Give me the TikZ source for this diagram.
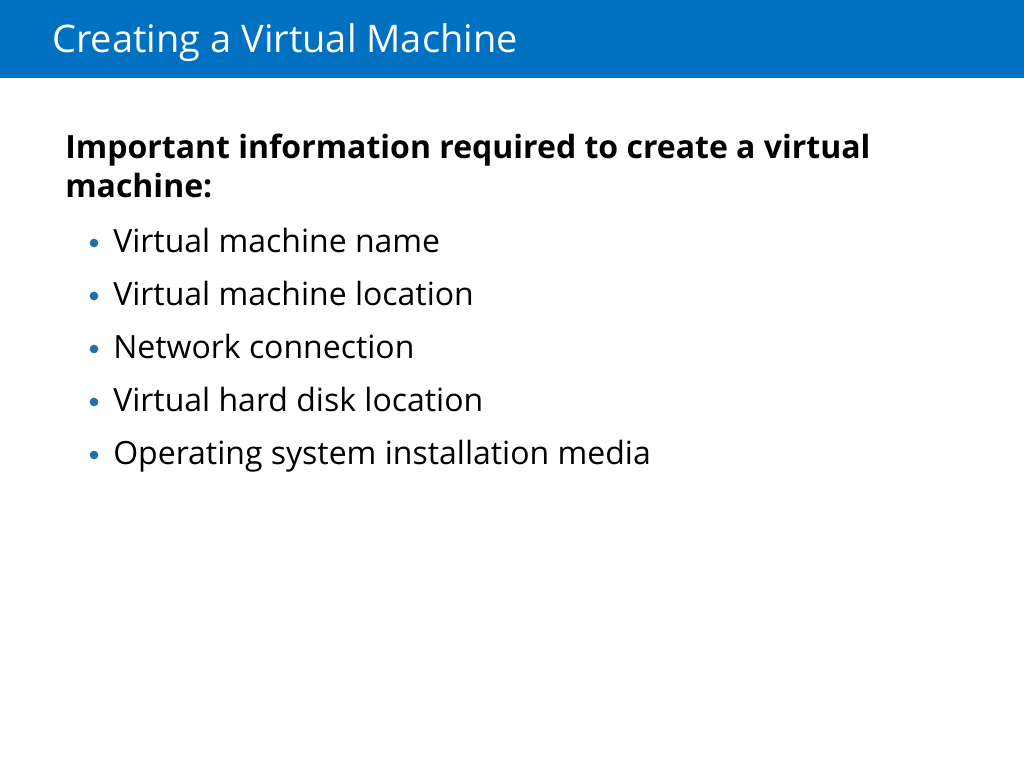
\documentclass[tikz,border=0pt]{standalone}
\usepackage{fontspec}
\setmainfont{Open Sans}
\definecolor{barblue}{HTML}{0070C0}
\definecolor{bulletblue}{HTML}{1F6FAE}
\begin{document}
\begin{tikzpicture}[x=0.75pt,y=-0.75pt,
  title/.style={anchor=base west,inner sep=0pt,text=white,font=\fontsize{28.5}{34}\selectfont},
  head/.style={anchor=base west,inner sep=0pt,font=\bfseries\fontsize{24}{29}\selectfont},
  item/.style={anchor=base west,inner sep=0pt,font=\fontsize{24}{29}\selectfont},
  dot/.style={circle,fill=bulletblue,inner sep=0pt,minimum size=6.5pt}]
\useasboundingbox (0,0) rectangle (1024,768);
\fill[white] (0,0) rectangle (1024,768);
\fill[barblue] (0,0) rectangle (1024,78);
\node[title] (t) at (52,52) {Creating a Virtual Machine};
\node[head] (h1) at (65,158) {Important information required to create a virtual};
\node[head] (h2) at (65,197) {machine:};
\foreach \y/\txt [count=\i] in {252/Virtual machine name,305/Virtual machine location,358/Network connection,411/Virtual hard disk location,464/Operating system installation media}{
  \node[dot] (b\i) at (94,\y-9) {};
  \node[item] (i\i) at (113,\y) {\txt};
}
\end{tikzpicture}
\end{document}
